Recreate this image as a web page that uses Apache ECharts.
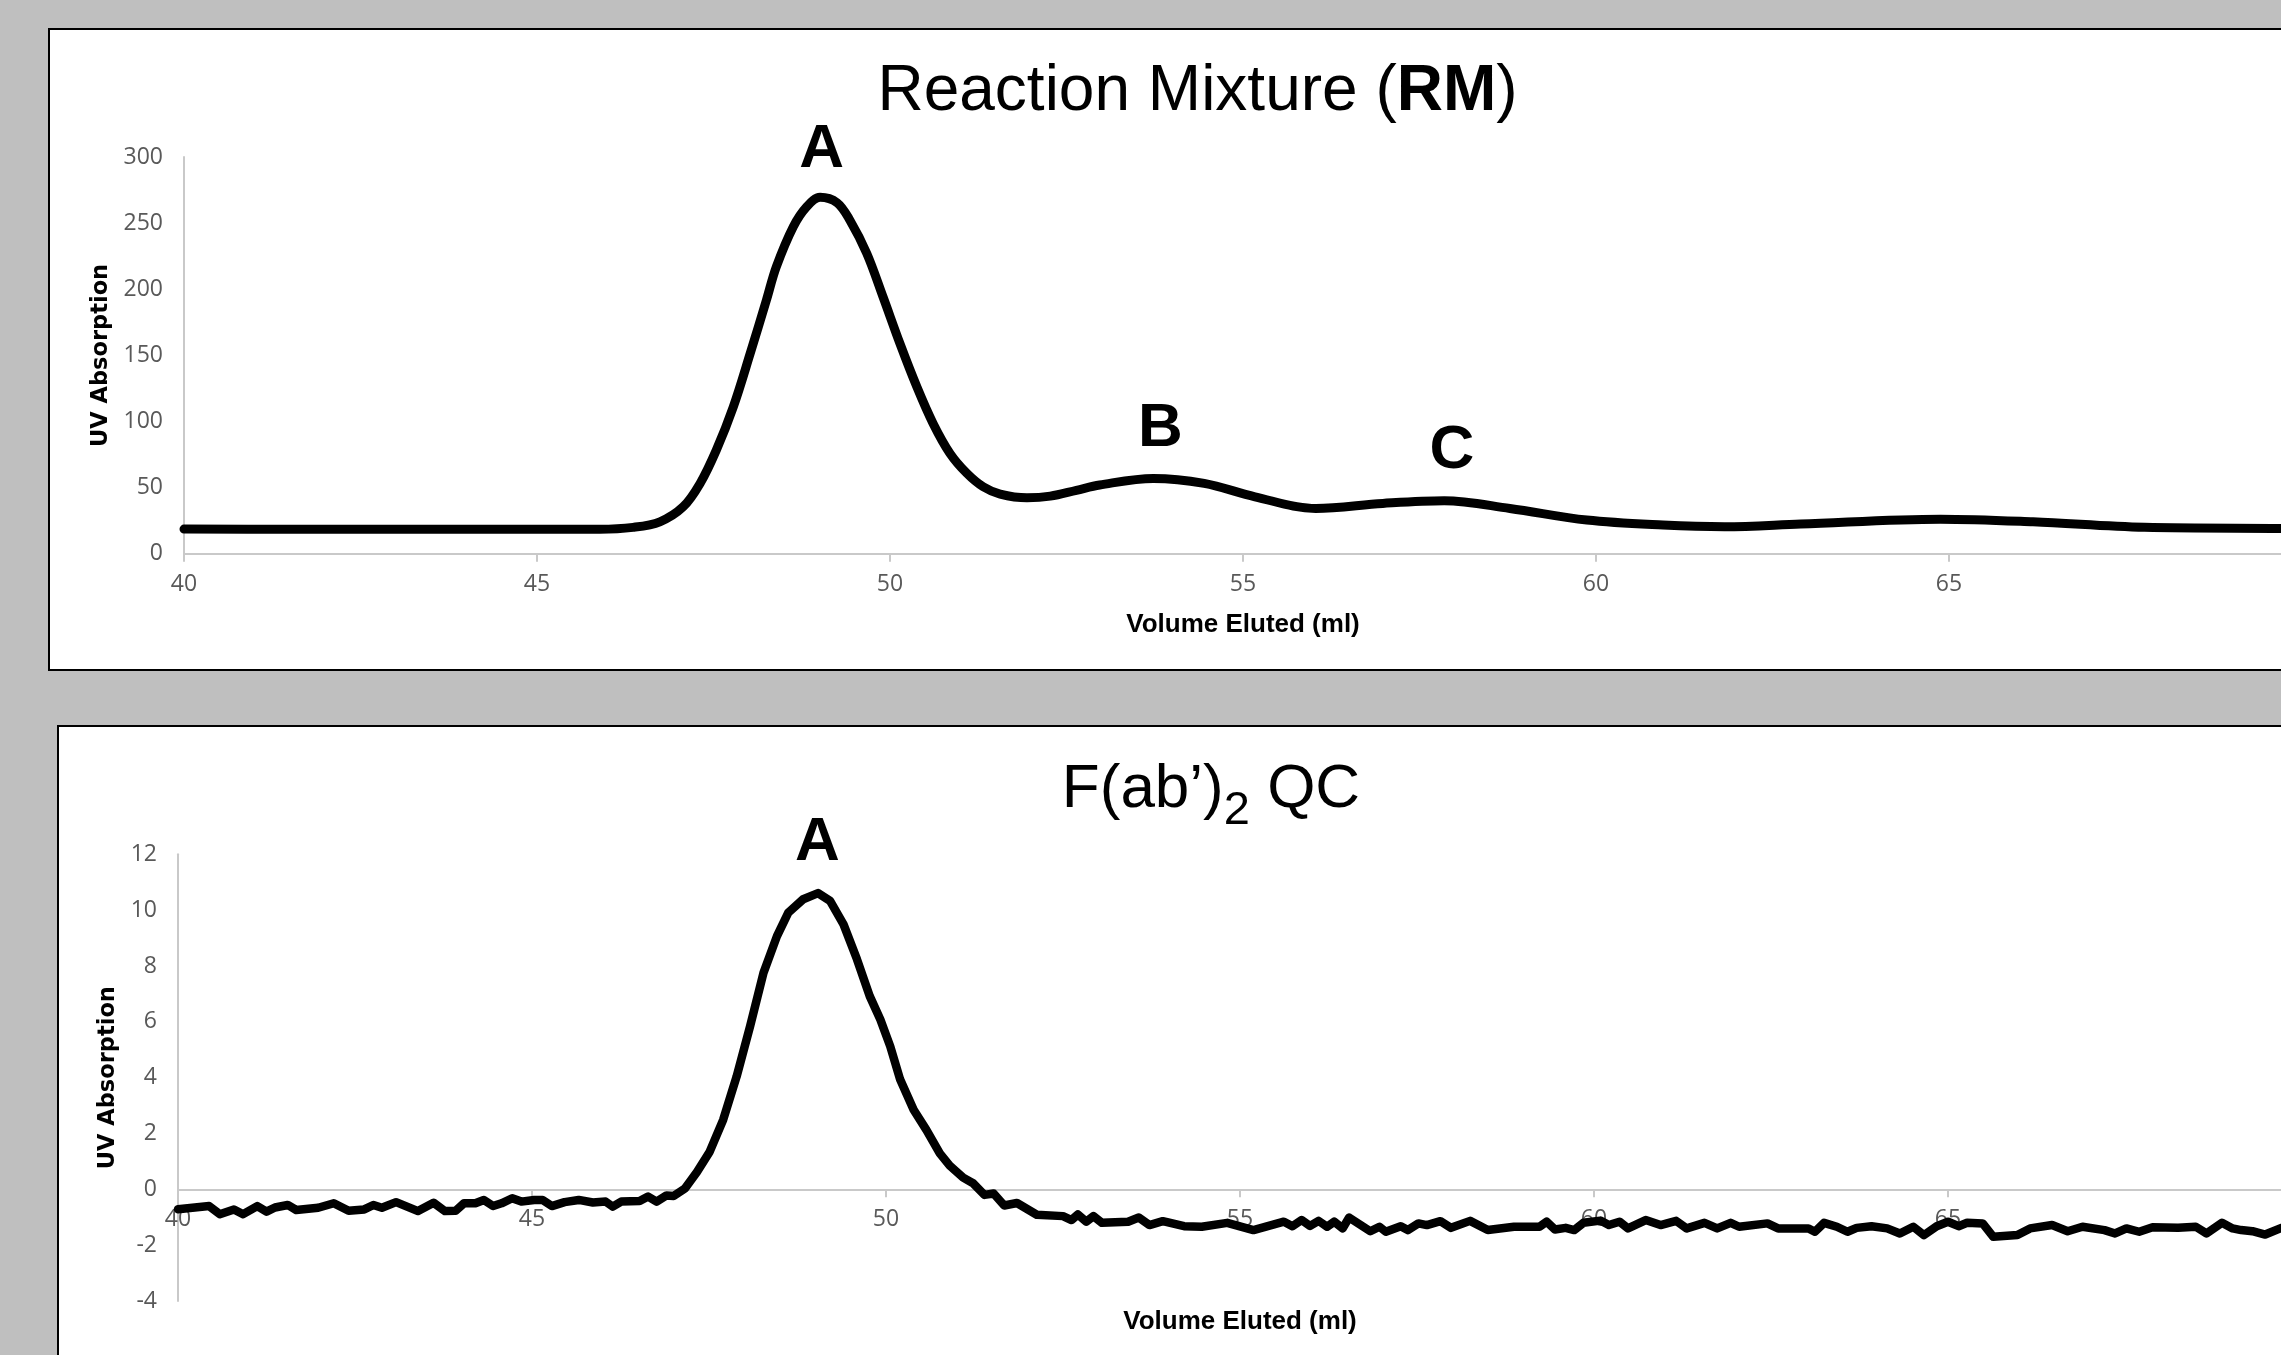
<!DOCTYPE html>
<html>
<head>
<meta charset="utf-8">
<script src="https://cdn.jsdelivr.net/npm/echarts@6/dist/echarts.min.js"></script>
<style>
html,body{margin:0;padding:0;background:#bfbfbf;overflow:hidden;width:2281px;height:1355px;}
.panel{position:absolute;background:#fff;border:2px solid #000;box-sizing:border-box;}
#p1{left:48px;top:28px;width:2400px;height:643px;}
#p2{left:57px;top:725px;width:2400px;height:800px;}
#chart{position:absolute;left:0;top:0;width:2400px;height:1500px;}
</style>
</head>
<body>
<div class="panel" id="p1"></div>
<div class="panel" id="p2"></div>
<div id="chart"></div>
<script>
// ---- Data: Reaction Mixture (RM) ----
const rmVolume = [40.0, 41.5, 43.0, 44.5, 45.5, 45.89, 46.36, 46.74, 47.07, 47.31, 47.54, 47.78, 48.02, 48.25, 48.39, 48.63, 48.82, 49.01, 49.25, 49.43, 49.67, 49.90, 50.14, 50.38, 50.61, 50.85, 51.09, 51.32, 51.56, 51.94, 52.27, 52.64, 52.97, 53.73, 54.45, 55.17, 56.03, 56.98, 57.85, 58.78, 59.87, 60.95, 61.82, 62.9, 64.88, 66.19, 67.77, 69.7, 70.0];
const rmUV = [18.7, 18.6, 18.5, 18.6, 18.6, 18.6, 20.0, 24.2, 35.5, 53.2, 78.4, 111, 151.5, 191.9, 217, 247.3, 262.4, 269.5, 265.4, 252.4, 227.2, 194.4, 159.1, 126.3, 98.6, 75.9, 60.8, 50.7, 45.2, 42.4, 43.6, 48.0, 52.0, 57.0, 53.2, 43.1, 34.3, 38.1, 40.1, 34.3, 25.5, 21.7, 20.4, 22.5, 26.2, 24.2, 20.0, 19.2, 19.1];

// ---- Data: F(ab')2 QC ----
const qcVolume = [40.00, 40.44, 40.59, 40.79, 40.92, 41.12, 41.25, 41.37, 41.55, 41.67, 41.98, 42.20, 42.41, 42.63, 42.76, 42.88, 43.08, 43.39, 43.61, 43.77, 43.92, 44.04, 44.20, 44.32, 44.45, 44.57, 44.72, 44.85, 45.03, 45.15, 45.28, 45.46, 45.66, 45.86,
  46.04, 46.14, 46.26, 46.52, 46.64, 46.76, 46.90, 47.00, 47.16, 47.33, 47.51, 47.70, 47.89, 48.08, 48.27, 48.46, 48.62, 48.83, 49.04, 49.21, 49.40, 49.59, 49.77, 49.92, 50.06, 50.20, 50.39, 50.57, 50.76, 50.90, 51.09, 51.23, 51.39, 51.52, 51.67, 51.85, 52.13,
  52.50, 52.62, 52.71, 52.83, 52.93, 53.05, 53.42, 53.57, 53.72, 53.91, 54.21, 54.46, 54.82, 55.19, 55.62, 55.74, 55.87, 55.99, 56.11, 56.23, 56.33, 56.45, 56.54, 56.84, 56.97, 57.06, 57.27, 57.37, 57.52, 57.64, 57.83, 57.98, 58.25, 58.50, 58.87, 59.23, 59.33, 59.45, 59.60, 59.72, 59.85, 60.09,
  60.21, 60.36, 60.48, 60.73, 60.94, 61.16, 61.31, 61.56, 61.74, 61.93, 62.05, 62.45, 62.60, 63.03, 63.12, 63.25, 63.43, 63.58, 63.71, 63.92, 64.14, 64.32, 64.51, 64.66, 64.84, 65.00, 65.15, 65.27, 65.49, 65.64, 65.98, 66.16, 66.47, 66.69, 66.90, 67.21, 67.36, 67.52, 67.70, 67.89, 68.25, 68.50, 68.65, 68.87, 69.02, 69.14, 69.30, 69.48, 69.71, 69.90];
const qcUV = [-0.71, -0.60, -0.89, -0.72, -0.89, -0.60, -0.80, -0.65, -0.56, -0.74, -0.66, -0.50, -0.77, -0.72, -0.56, -0.66, -0.46, -0.78, -0.48, -0.78, -0.77, -0.50, -0.50, -0.38, -0.60, -0.50, -0.32, -0.44, -0.38, -0.38, -0.60, -0.46, -0.38, -0.47,
  -0.44, -0.62, -0.44, -0.42, -0.26, -0.44, -0.22, -0.24, 0.03, 0.62, 1.35, 2.49, 4.04, 5.84, 7.76, 9.07, 9.91, 10.39, 10.61, 10.33, 9.49, 8.24, 6.92, 6.08, 5.12, 3.93, 2.85, 2.13, 1.29, 0.85, 0.42, 0.22, -0.20, -0.15, -0.58, -0.49, -0.91,
  -0.96, -1.10, -0.90, -1.16, -0.96, -1.20, -1.16, -1.01, -1.28, -1.14, -1.32, -1.34, -1.20, -1.46, -1.16, -1.32, -1.10, -1.31, -1.13, -1.34, -1.16, -1.40, -1.01, -1.50, -1.34, -1.52, -1.32, -1.46, -1.22, -1.28, -1.14, -1.38, -1.13, -1.46, -1.34, -1.34, -1.16, -1.44, -1.38, -1.46, -1.20, -1.12,
  -1.28, -1.16, -1.40, -1.10, -1.28, -1.13, -1.40, -1.20, -1.40, -1.20, -1.34, -1.22, -1.40, -1.40, -1.52, -1.20, -1.34, -1.52, -1.38, -1.32, -1.40, -1.58, -1.34, -1.64, -1.32, -1.16, -1.32, -1.20, -1.22, -1.70, -1.64, -1.40, -1.28, -1.50, -1.34, -1.46, -1.58, -1.40, -1.52, -1.36, -1.38, -1.34, -1.58, -1.20, -1.40, -1.46, -1.50, -1.62, -1.38, -1.40];

// ---- Peak annotations (data space) ----
const rmPeakNames = ['A', 'B', 'C'];
const rmPeakVolumes = [49.03, 53.83, 57.96];
const rmPeakUV = [269.5, 57.0, 40.0];
const qcPeakNames = ['A'];
const qcPeakVolumes = [49.03];
const qcPeakUV = [10.61];

// ---- Axis settings ----
const xMin = 40, xMax = 70, xStep = 5;
const rmYMin = 0, rmYMax = 300, rmYStep = 50;
const qcYMin = -4, qcYMax = 12, qcYStep = 2;

const xName = 'Volume Eluted (ml)';
const yName = 'UV Absorption';
const qcTitleParts = ['F(ab’)', '2', ' QC'];

const rmData = rmVolume.map((v, i) => [v, rmUV[i]]);
const qcData = qcVolume.map((v, i) => [v, qcUV[i]]);

const axisGrey = '#c9c9c9';
const labelGrey = '#595959';
const peakLabel = {
  show: true, position: 'inside', color: '#000',
  fontFamily: 'Liberation Sans', fontWeight: 'bold', fontSize: 62,
  formatter: p => p.name
};

const grids = [
  { left: 184, top: 157, width: 2118, height: 396.8, outerBoundsMode: 'none' },
  { left: 178, top: 854.3, width: 2124, height: 446.7, outerBoundsMode: 'none' }
];
// bottom x axis sits on the zero line: shift it up from the grid bottom by the zero position
const qcZeroShift = -grids[1].height * (0 - qcYMin) / (qcYMax - qcYMin);

function xAxisCfg(gi, gap, offset) {
  return {
    gridIndex: gi, type: 'value', min: xMin, max: xMax, interval: xStep,
    offset: offset,
    axisLine: { show: true, onZero: false, lineStyle: { color: axisGrey, width: 2 } },
    axisTick: { show: true, length: 8, lineStyle: { color: axisGrey, width: 2 } },
    axisLabel: { color: labelGrey, fontFamily: 'Open Sans', fontSize: 23, margin: 19, showMaxLabel: false },
    splitLine: { show: false },
    name: xName, nameLocation: 'middle', nameGap: gap,
    nameTextStyle: { fontFamily: 'Liberation Sans', fontWeight: 'bold', fontSize: 26, color: '#000' }
  };
}
function yAxisCfg(gi, min, max, step, gap, margin) {
  return {
    gridIndex: gi, type: 'value', min: min, max: max, interval: step,
    axisLine: { show: true, onZero: false, lineStyle: { color: axisGrey, width: 2 } },
    axisTick: { show: false },
    axisLabel: { color: labelGrey, fontFamily: 'Open Sans', fontSize: 23, margin: margin },
    splitLine: { show: false },
    name: yName, nameLocation: 'middle', nameGap: gap,
    nameTextStyle: { fontFamily: 'DejaVu Sans', fontWeight: 'bold', fontSize: 22.5, color: '#000' }
  };
}

// measure the QC title pieces so the subscript can sit below the baseline
const mctx = document.createElement('canvas').getContext('2d');
const mainFont = '62px "Liberation Sans"', subFont = '47px "Liberation Sans"';
mctx.font = mainFont; const w1 = mctx.measureText(qcTitleParts[0]).width;
const w3 = mctx.measureText(qcTitleParts[2]).width;
mctx.font = subFont; const w2 = mctx.measureText(qcTitleParts[1]).width;
const qcTitleCx = 1211, qcTitleY = 790;
const qx0 = qcTitleCx - (w1 + w2 + w3) / 2;

const chart = echarts.init(document.getElementById('chart'), null, { renderer: 'canvas' });
chart.setOption({
  animation: false,
  backgroundColor: 'transparent',
  grid: grids,
  xAxis: [xAxisCfg(0, 58, 0), xAxisCfg(1, 120, qcZeroShift)],
  yAxis: [
    yAxisCfg(0, rmYMin, rmYMax, rmYStep, 69, 21),
    yAxisCfg(1, qcYMin, qcYMax, qcYStep, 52, 21)
  ],
  graphic: [
    {
      type: 'text', x: 1197.5, y: 92, z: 100,
      style: {
        text: '{n|Reaction Mixture (}{b|RM}{n|)}',
        align: 'center', verticalAlign: 'middle',
        rich: {
          n: { fontFamily: 'Liberation Sans', fontSize: 64, lineHeight: 64, fill: '#000' },
          b: { fontFamily: 'Liberation Sans', fontSize: 64, lineHeight: 64, fontWeight: 'bold', fill: '#000' }
        }
      }
    },
    {
      type: 'text', x: qx0, y: qcTitleY, z: 100,
      style: { text: qcTitleParts[0], font: mainFont, fill: '#000', align: 'left', verticalAlign: 'middle' }
    },
    {
      type: 'text', x: qx0 + w1, y: qcTitleY + 21.5, z: 100,
      style: { text: qcTitleParts[1], font: subFont, fill: '#000', align: 'left', verticalAlign: 'middle' }
    },
    {
      type: 'text', x: qx0 + w1 + w2, y: qcTitleY, z: 100,
      style: { text: qcTitleParts[2], font: mainFont, fill: '#000', align: 'left', verticalAlign: 'middle' }
    }
  ],
  series: [
    {
      type: 'line', xAxisIndex: 0, yAxisIndex: 0, data: rmData,
      smooth: 0.35, showSymbol: false, symbol: 'none', clip: false,
      lineStyle: { color: '#000', width: 9, cap: 'round', join: 'round' },
      markPoint: {
        symbol: 'circle', symbolSize: 1, itemStyle: { color: 'rgba(0,0,0,0)' },
        label: peakLabel,
        data: rmPeakNames.map((n, i) => ({
          name: n, coord: [rmPeakVolumes[i], rmPeakUV[i]],
          label: { offset: [0, [-47, -50, -50][i]] }
        }))
      }
    },
    {
      type: 'line', xAxisIndex: 1, yAxisIndex: 1, data: qcData,
      smooth: false, showSymbol: false, symbol: 'none', clip: false,
      lineStyle: { color: '#000', width: 8.5, cap: 'round', join: 'round' },
      markPoint: {
        symbol: 'circle', symbolSize: 1, itemStyle: { color: 'rgba(0,0,0,0)' },
        label: peakLabel,
        data: qcPeakNames.map((n, i) => ({
          name: n, coord: [qcPeakVolumes[i], qcPeakUV[i]],
          label: { offset: [0, -50] }
        }))
      }
    }
  ]
});
</script>
</body>
</html>
